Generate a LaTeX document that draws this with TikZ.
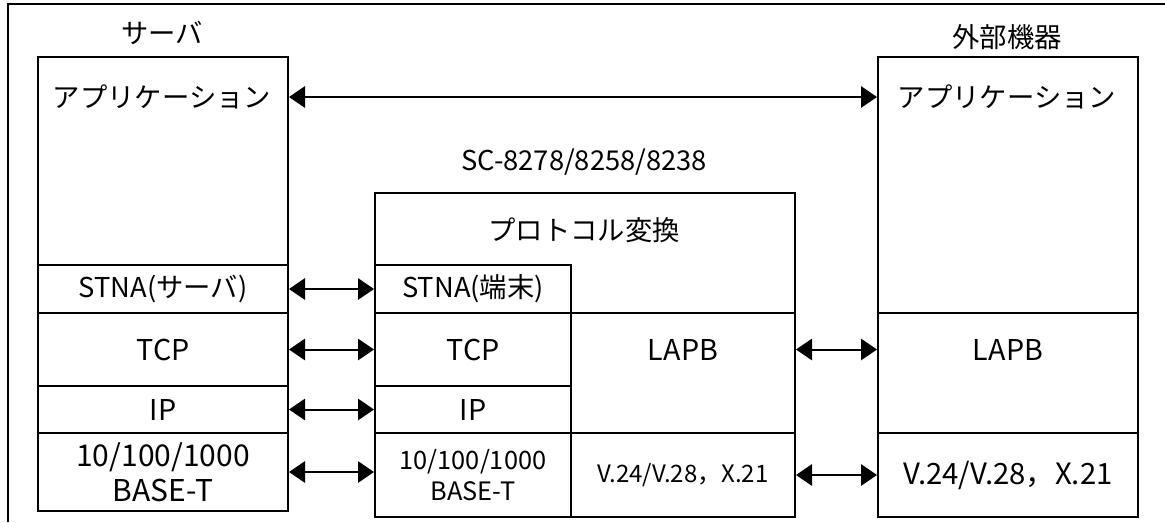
\documentclass[tikz,border=0pt]{standalone}
\usepackage{fontspec}
\setmainfont{Noto Sans CJK JP}
\usetikzlibrary{arrows.meta,positioning}

\begin{document}
\begin{tikzpicture}[x=0.75pt, y=-0.75pt, line width=1.5pt,
                    layer/.style={rectangle, draw, anchor=north west, inner sep=0pt,
                                  align=center, font=\fontsize{20.5}{24}\selectfont},
                    box/.style 2 args={minimum width=#1*0.75pt, minimum height=#2*0.75pt},
                    title/.style={font=\fontsize{20.5}{24}\selectfont},
                    link/.style={{Triangle[length=12pt,width=16pt]}-{Triangle[length=12pt,width=16pt]}},
                    ]
\useasboundingbox (0,0) rectangle (1165,522);
\draw (8,522) -- (8,4) -- (1165,4);

% server
\node[title] (srvLabel) at (162,33) {サーバ};
\node[layer, box={250}{208}] (sApp) at (37,56) {};
\node[title] (sAppText) at (162,97) {アプリケーション};
\node[layer, box={250}{48}] (sSTNA) at (37,264) {STNA(サーバ)};
\node[layer, box={250}{73}, font=\fontsize{21.5}{24}\selectfont] (sTCP) at (37,312) {TCP};
\node[layer, box={250}{47}, font=\fontsize{21.5}{24}\selectfont] (sIP) at (37,385) {IP};
\node[layer, box={250}{78}, font=\fontsize{22.5}{26}\selectfont] (sBase) at (37,432) {10/100/1000\\BASE-T};

% SC-8278/8258/8238
\node[title] (scLabel) at (584,162) {SC-8278/8258/8238};
\node[layer, box={420}{324}] (cBox) at (374,192) {};
\node[title] (cConv) at (584,230) {プロトコル変換};
\node[layer, box={196}{48}] (cSTNA) at (374,264) {STNA(端末)};
\node[layer, box={196}{73}, font=\fontsize{21.5}{24}\selectfont] (cTCP) at (374,312) {TCP};
\node[layer, box={196}{47}, font=\fontsize{21.5}{24}\selectfont] (cIP) at (374,385) {IP};
\node[layer, box={196}{84}, font=\fontsize{19}{23}\selectfont] (cBase) at (374,432) {10/100/1000\\BASE-T};
\node[layer, box={224}{120}] (cLAPB) at (570,312) {};
\node[title, font=\fontsize{21.5}{24}\selectfont] (cLAPBText) at (cLAPB.center |- cTCP.center) {LAPB};
\node[layer, box={224}{84}, font=\fontsize{18}{22}\selectfont] (cV24) at (570,432) {V.24/V.28，X.21};

% external device
\node[title] (extLabel) at (1007,37) {外部機器};
\node[layer, box={260}{256}] (eApp) at (877,56) {};
\node[title] (eAppText) at (1007,97) {アプリケーション};
\node[layer, box={260}{120}] (eLAPB) at (877,312) {};
\node[title, font=\fontsize{21.5}{24}\selectfont] (eLAPBText) at (eLAPB.center |- cTCP.center) {LAPB};
\node[layer, box={260}{84}, font=\fontsize{22}{26}\selectfont] (eV24) at (877,432) {V.24/V.28，X.21};

% links
\draw[link] (sAppText -| sApp.east) -- (sAppText -| eApp.west);
\draw[link] (sSTNA.east) -- (cSTNA.west);
\draw[link] (sTCP.east) -- (cTCP.west);
\draw[link] (sIP.east) -- (cIP.west);
\draw[link] (sBase.east) -- (sBase.east -| cBase.west);
\draw[link] (cLAPB.east |- cTCP) -- (eLAPB.west |- cTCP);
\draw[link] (cV24.east) -- (eV24.west);
\end{tikzpicture}
\end{document}
